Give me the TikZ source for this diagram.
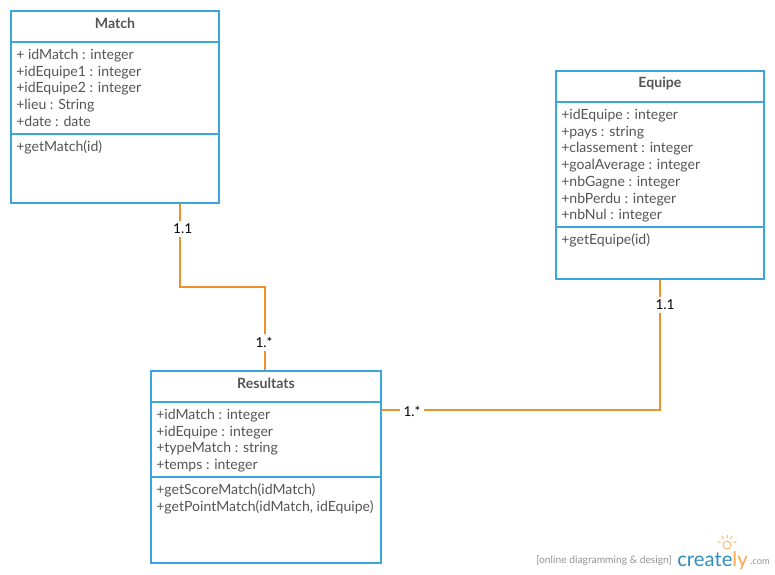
\documentclass[tikz,border=0pt]{standalone}
\usepackage{fontspec}
\setmainfont{Lato}
\usetikzlibrary{calc}
\definecolor{umlblue}{HTML}{3AA6DD}
\definecolor{linkorange}{HTML}{F0902C}
\definecolor{umltext}{HTML}{555555}
\tikzset{
  classbox/.style={draw=umlblue,line width=1.5pt,fill=white,inner sep=0pt},
  classtitle/.style={font=\fontsize{10.6}{12}\selectfont\bfseries,text=umltext},
  classtext/.style={font=\fontsize{10.55}{12.55}\selectfont,text=umltext,align=left,anchor=north west,inner sep=0pt},
  linkline/.style={draw=linkorange,line width=1.5pt},
  linklabel/.style={fill=white,font=\fontsize{10.2}{11}\selectfont,text=black,inner sep=2.5pt}
}
%name, x, y, width, height, title, second line y, attributes, methods
\newcommand{\createclass}[9]{
  \node[classbox,anchor=north west,minimum width=#4*0.75pt,minimum height=#5*0.75pt] (#1) at (#2,#3) {};
  \coordinate (#1sepa) at ($(#1.north west)+(0,32)$);
  \coordinate (#1sepb) at ($(#1.north west)+(0,#7)$);
  \draw[umlblue,line width=1.5pt] (#1sepa) -- (#1sepa -| #1.east);
  \draw[umlblue,line width=1.5pt] (#1sepb) -- (#1sepb -| #1.east);
  \node[classtitle] (#1title) at ($(#1.north)+(0,13)$) {#6};
  \node[classtext] (#1attr) at ($(#1sepa)+(6,6.8)$) {#8};
  \node[classtext] (#1meth) at ($(#1sepb)+(6,6.3)$) {#9};
}
\begin{document}
\begin{tikzpicture}[x=0.75pt,y=-0.75pt]
    \useasboundingbox (0,0) rectangle (775,575);
    \createclass{match}{10}{10}{208}{192}{Match}{124}{+ idMatch : integer\\+idEquipe1 : integer\\+idEquipe2 : integer\\+lieu : String\\+date : date}{+getMatch(id)}
    \createclass{equipe}{555}{70}{208}{208}{Equipe}{157}{+idEquipe : integer\\+pays : string\\+classement : integer\\+goalAverage : integer\\+nbGagne : integer\\+nbPerdu : integer\\+nbNul : integer}{+getEquipe(id)}
    \createclass{resultats}{150}{370}{230}{192}{Resultats}{107}{+idMatch : integer\\+idEquipe : integer\\+typeMatch : string\\+temps : integer}{+getScoreMatch(idMatch)\\+getPointMatch(idMatch, idEquipe)}
    %links
    \coordinate (matchport) at ($(match.south west)!0.808!(match.south east)$);
    \coordinate (resultstop) at ($(resultats.north)+(-1,0)$);
    \coordinate (resultsport) at ($(resultats.north east)+(0,40)$);
    \draw[linkline] (matchport) -- ($(matchport)+(0,83.3)$) -| (resultstop);
    \draw[linkline] (equipe.south) |- (resultsport);
    \node[linklabel] (matchcard) at ($(matchport)+(3,25)$) {1.1};
    \node[linklabel] (resultscardm) at ($(resultstop)+(-1,-28)$) {1.*};
    \node[linklabel] (equipecard) at ($(equipe.south)+(5,25)$) {1.1};
    \node[linklabel] (resultscarde) at ($(resultsport)+(30,1)$) {1.*};
    %logo
    \node[anchor=base east,font=\fontsize{7.7}{8}\selectfont,text=gray!85,inner sep=0pt] (slogan) at (672,563) {[online diagramming \& design]};
    \node[anchor=base west,font=\fontsize{15.2}{20}\selectfont,text=umlblue!85!black,inner sep=0pt] (logo) at (677,566) {create\textcolor{orange!70}{ly}};
    \node[anchor=base west,font=\fontsize{7}{8}\selectfont,text=gray!85,inner sep=0pt] (logocom) at (750,564) {.com};
    \draw[orange!60,line width=0.7pt] (727,545) circle (4);
    \foreach \ang in {-160,-120,-90,-60,-20} {
        \draw[orange!60,line width=0.7pt] (727,545) ++(\ang:7) -- ++(\ang:3);}
\end{tikzpicture}
\end{document}
